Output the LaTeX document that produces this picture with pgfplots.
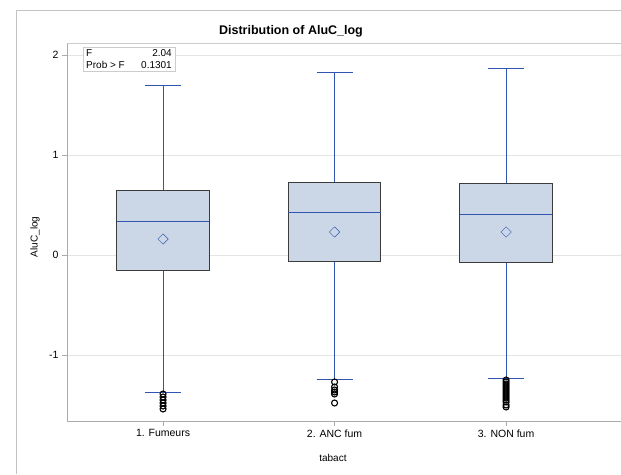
\documentclass[border=0pt]{standalone}
\usepackage{pgfplots}
\pgfplotsset{compat=1.18}
\usepgfplotslibrary{statistics}
\usepackage{fontspec}
\setmainfont{Liberation Sans}
\definecolor{sasblue}{RGB}{49,84,176}
\definecolor{boxfill}{RGB}{203,214,230}
\definecolor{boxline}{RGB}{60,60,60}
\definecolor{axgray}{RGB}{170,170,170}
\definecolor{gridgray}{RGB}{228,228,228}
\pgfdeclareplotmark{sasdiamond}{%
  \pgfpathmoveto{\pgfqpoint{0pt}{\pgfplotmarksize}}%
  \pgfpathlineto{\pgfqpoint{\pgfplotmarksize}{0pt}}%
  \pgfpathlineto{\pgfqpoint{0pt}{-\pgfplotmarksize}}%
  \pgfpathlineto{\pgfqpoint{-\pgfplotmarksize}{0pt}}%
  \pgfpathclose\pgfusepathqstroke}
\begin{document}
\begin{tikzpicture}[x=1pt,y=1pt]
\useasboundingbox (0,0) rectangle (621,474);
\draw[color=axgray!70, line width=0.8pt] (16,0) -- (16,464) -- (621,464);
\node[font=\bfseries\fontsize{12.5}{14}\selectfont] at (291,443) {Distribution of AluC\_log};
\begin{axis}[
  at={(67pt,53pt)}, anchor=south west,
  scale only axis, width=554pt, height=378pt,
  xmin=0.44, xmax=3.67, ymin=-1.66, ymax=2.12,
  axis line style={draw=none},
  clip=false,
  xtick={1,2,3}, xticklabels={1. Fumeurs, 2. ANC fum, 3. NON fum},
  ytick={-1,0,1,2}, yticklabels={-1,0,1,2},
  xtick pos=left, ytick pos=left,
  tick align=outside, major tick length=5pt,
  tick style={color=axgray, line width=0.8pt},
  ymajorgrids, grid style={color=gridgray, line width=0.8pt},
  ticklabel style={font=\fontsize{10.5}{12}\selectfont},
  xlabel={tabact}, ylabel={AluC\_log},
  label style={font=\fontsize{10.5}{12}\selectfont},
  every axis x label/.style={at={(axis description cs:0.480,-0.098)}, anchor=center},
  every axis y label/.style={at={(axis description cs:-0.0578,0.487)}, anchor=center, rotate=90},
  boxplot/draw direction=y,
  boxplot/box extend=0.54,
  boxplot/whisker extend=0.21,
  boxplot/every box/.style={draw=boxline, fill=boxfill, line width=1pt},
  boxplot/every median/.style={draw=sasblue, line width=1pt},
  boxplot/every whisker/.style={draw=sasblue, line width=1pt},
  boxplot/every average/.style={/tikz/mark=sasdiamond, /tikz/mark size=5.2pt, /tikz/draw=sasblue, /tikz/line width=1pt},
]
\addplot[draw=sasblue, mark=none,
  boxplot prepared={draw position=1, lower whisker=-1.37, lower quartile=-0.16, median=0.33, upper quartile=0.64, upper whisker=1.69, average=0.16}]
  coordinates {};
\addplot[draw=sasblue, mark=none,
  boxplot prepared={draw position=2, lower whisker=-1.24, lower quartile=-0.07, median=0.42, upper quartile=0.72, upper whisker=1.82, average=0.23}]
  coordinates {};
\addplot[draw=sasblue, mark=none,
  boxplot prepared={draw position=3, lower whisker=-1.23, lower quartile=-0.08, median=0.40, upper quartile=0.71, upper whisker=1.86, average=0.23}]
  coordinates {};
\addplot[draw=sasblue, mark=none,
  boxplot prepared={draw position=1, lower whisker=-1.37, lower quartile=-0.16, median=0.33, upper quartile=0.64, upper whisker=1.69, average=0.16}]
  coordinates {};
\addplot[only marks, mark=o, mark size=3pt, mark options={draw=black, line width=1.1pt}]
  coordinates {(1,-1.39) (1,-1.42) (1,-1.45) (1,-1.48) (1,-1.51) (1,-1.54)
               (2,-1.27) (2,-1.32) (2,-1.35) (2,-1.37) (2,-1.39) (2,-1.48)
               (3,-1.25) (3,-1.27) (3,-1.29) (3,-1.31) (3,-1.33) (3,-1.35) (3,-1.37)
               (3,-1.39) (3,-1.41) (3,-1.43) (3,-1.45) (3,-1.47) (3,-1.50) (3,-1.52)};
\draw[color=axgray, line width=1pt] (rel axis cs:0,1) -- (rel axis cs:0,0) -- (rel axis cs:1,0);
\draw[color=axgray!60, line width=0.8pt] (rel axis cs:0,1) -- (rel axis cs:1,1);
\end{axis}
\draw[color=axgray!60, fill=white, line width=0.8pt] (83,403) rectangle (175,427);
\node[anchor=west, font=\fontsize{10}{12}\selectfont, inner sep=0pt] at (86,421) {F};
\node[anchor=east, font=\fontsize{10}{12}\selectfont, inner sep=0pt] at (172,421) {2.04};
\node[anchor=west, font=\fontsize{10}{12}\selectfont, inner sep=0pt] at (86,409) {Prob > F};
\node[anchor=east, font=\fontsize{10}{12}\selectfont, inner sep=0pt] at (172,409) {0.1301};
\end{tikzpicture}
\end{document}
